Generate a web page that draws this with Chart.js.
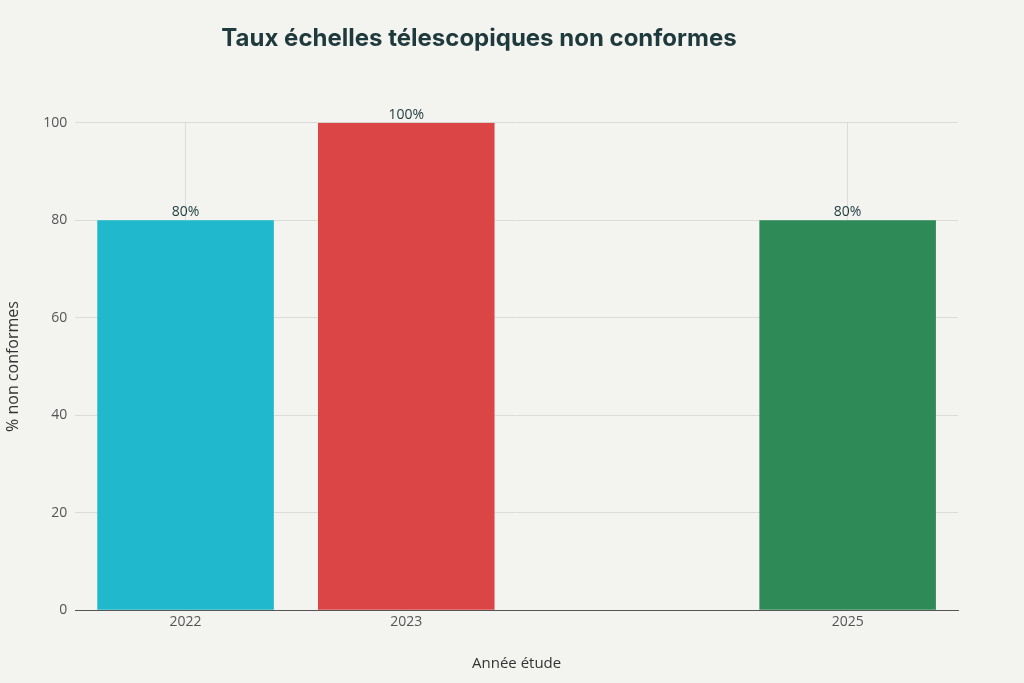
<!DOCTYPE html>
<html><head><meta charset="utf-8">
<script src="https://cdn.jsdelivr.net/npm/chart.js@4"></script>
<style>html,body{margin:0;background:#f3f3ef;}#w{width:1024px;height:683px;}</style>
</head><body><div id="w"><canvas id="c"></canvas></div>
<script>
const years = [2022, 2023, 2025];
const values = [80, 100, 80];
const colors = ['#1fb8cd', '#db4545', '#2e8b57'];
const yTicks = [0, 20, 40, 60, 80, 100];

const labelPlugin = {
  id: 'lbl',
  afterDatasetsDraw(chart) {
    const ctx = chart.ctx;
    const meta = chart.getDatasetMeta(0);
    ctx.save();
    ctx.font = '14px "Open Sans", sans-serif';
    ctx.fillStyle = '#1f3a3d';
    ctx.textAlign = 'center';
    ctx.textBaseline = 'bottom';
    meta.data.forEach((b, i) => ctx.fillText(values[i] + '%', b.x, b.y - 1));
    ctx.restore();
  }
};

new Chart(document.getElementById('c'), {
  type: 'bar',
  data: { datasets: [{ data: years.map((y, i) => ({ x: y, y: values[i] })), backgroundColor: colors, barPercentage: 0.8, categoryPercentage: 1 }] },
  options: {
    responsive: true, maintainAspectRatio: false, animation: false,
    layout: { padding: { top: 20, right: 66, left: 0, bottom: 6 } },
    plugins: {
      legend: { display: false }, tooltip: { enabled: false },
      title: { display: true, text: 'Taux échelles télescopiques non conformes', color: '#1f3a3d',
        font: { size: 24, weight: 'bold', family: 'Inter, sans-serif' }, padding: { top: 4, bottom: 70 } }
    },
    scales: {
      x: { type: 'linear', min: 2021.5, max: 2025.5, offset: false,
        afterBuildTicks: s => { s.ticks = years.map(v => ({ value: v })); },
        ticks: { color: '#555', font: { size: 14, family: '"Open Sans", sans-serif' }, callback: v => String(v) },
        grid: { color: '#dcdcd6', drawTicks: false, offset: false },
        border: { color: '#555', display: true },
        title: { display: true, text: 'Année étude', color: '#333', font: { size: 15, family: '"Open Sans", sans-serif' }, padding: { top: 22 } }
      },
      y: { min: 0, max: 100,
        afterBuildTicks: s => { s.ticks = yTicks.map(v => ({ value: v })); },
        ticks: { color: '#555', font: { size: 14, family: '"Open Sans", sans-serif' }, padding: 8 },
        grid: { color: '#dcdcd6', drawTicks: false },
        border: { display: false },
        title: { display: true, text: '% non conformes', color: '#333', font: { size: 16, family: '"Open Sans", sans-serif' }, padding: { bottom: 12 } }
      }
    }
  },
  plugins: [labelPlugin]
});
</script></body></html>
